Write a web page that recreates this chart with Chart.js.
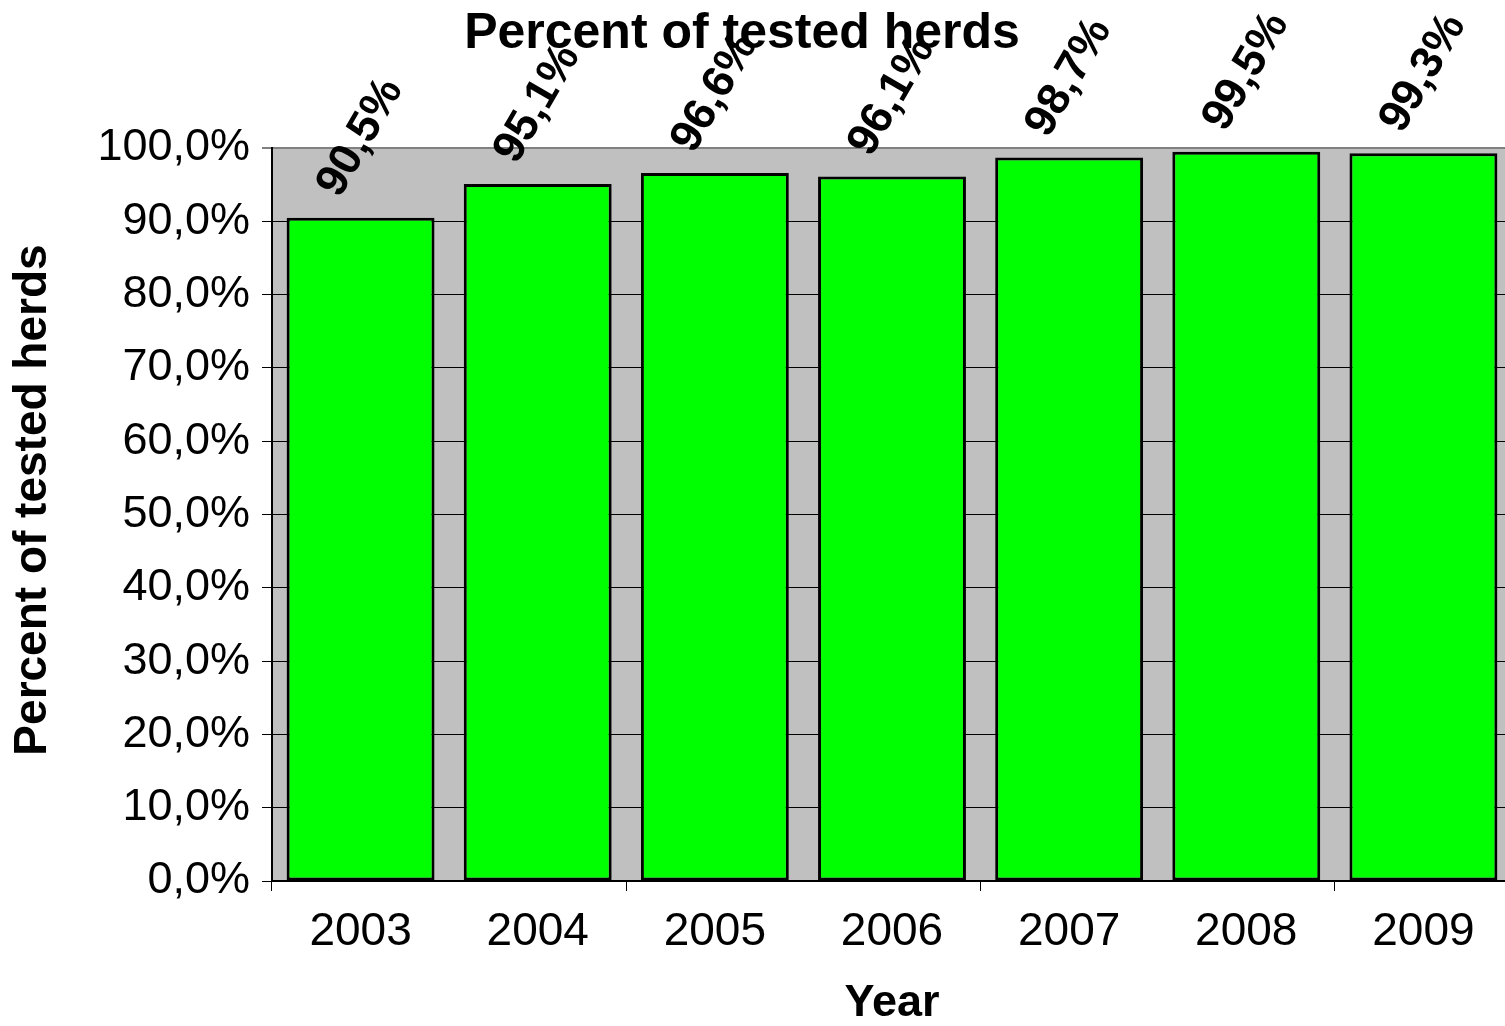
<!DOCTYPE html>
<html>
<head>
<meta charset="utf-8">
<script src="https://cdn.jsdelivr.net/npm/chart.js@4"></script>
<style>
  html, body { margin: 0; padding: 0; background: #fff; overflow: hidden; }
  #wrap { width: 1520px; height: 1026px; }
</style>
</head>
<body>
<div id="wrap"><canvas id="c" width="1520" height="1026"></canvas></div>
<script>
const categories = ['2003', '2004', '2005', '2006', '2007', '2008', '2009'];
const percentTested = [90.5, 95.1, 96.6, 96.1, 98.7, 99.5, 99.3];
const dataLabels = ['90,5%', '95,1%', '96,6%', '96,1%', '98,7%', '99,5%', '99,3%'];
const yTickLabels = ['0,0%', '10,0%', '20,0%', '30,0%', '40,0%', '50,0%', '60,0%', '70,0%', '80,0%', '90,0%', '100,0%'];
const chartTitle = 'Percent of tested herds';
const yTitle = 'Percent of tested herds';
const xTitle = 'Year';

const FONT = '"Liberation Sans", Arial, sans-serif';

const plotBg = {
  id: 'plotBg',
  beforeDraw(chart) {
    const { ctx, chartArea: a } = chart;
    ctx.save();
    ctx.fillStyle = '#C0C0C0';
    ctx.fillRect(a.left, a.top, a.right - a.left, a.bottom - a.top);
    ctx.restore();
  }
};

const labelsAndTitle = {
  id: 'labelsAndTitle',
  afterDraw(chart) {
    const ctx = chart.ctx;
    const meta = chart.getDatasetMeta(0);
    ctx.save();
    ctx.fillStyle = '#000';
    ctx.font = 'bold 45px ' + FONT;
    ctx.textAlign = 'center';
    ctx.textBaseline = 'middle';
    meta.data.forEach((bar, i) => {
      ctx.save();
      ctx.translate(bar.x, bar.y - 80);
      ctx.rotate(-Math.PI / 3);
      ctx.fillText(dataLabels[i], 0, 0);
      ctx.restore();
    });
    // chart title
    ctx.font = 'bold 50px ' + FONT;
    ctx.textBaseline = 'alphabetic';
    ctx.fillText(chartTitle, 742, 48);
    // y axis title
    ctx.save();
    ctx.translate(33, 500);
    ctx.rotate(-Math.PI / 2);
    ctx.font = 'bold 46px ' + FONT;
    ctx.textBaseline = 'middle';
    ctx.fillText(yTitle, 0, 0);
    ctx.restore();
    ctx.restore();
  }
};

new Chart(document.getElementById('c'), {
  type: 'bar',
  data: {
    labels: categories,
    datasets: [{
      data: percentTested,
      backgroundColor: '#00FF00',
      borderColor: '#000000',
      borderWidth: 3,
      borderSkipped: false,
      categoryPercentage: 0.835,
      barPercentage: 1.0
    }]
  },
  options: {
    responsive: false,
    animation: false,
    devicePixelRatio: 1,
    layout: { padding: { left: 0, right: 8, top: 148, bottom: 0 } },
    plugins: {
      legend: { display: false },
      title: { display: false },
      tooltip: { enabled: false }
    },
    scales: {
      x: {
        offset: true,
        afterFit(scale) { scale.height = 145; },
        grid: {
          offset: true,
          drawOnChartArea: false,
          drawTicks: true,
          tickLength: 10,
          lineWidth: 1,
          color: (c) => (c.index % 2 === 0 ? '#000000' : 'rgba(0,0,0,0)')
        },
        border: { display: true, color: '#000000', width: 2 },
        ticks: {
          color: '#000',
          font: { family: FONT, size: 46 },
          padding: 14,
          maxRotation: 0,
          autoSkip: false
        },
        title: {
          display: true,
          text: xTitle,
          color: '#000',
          font: { family: FONT, size: 45, weight: 'bold', lineHeight: 1.0 },
          padding: 0
        }
      },
      y: {
        min: 0,
        max: 100,
        afterFit(scale) { scale.width = 272; },
        grid: {
          drawTicks: true,
          tickLength: 10,
          color: (c) => (c.tick && c.tick.value === 100 ? '#808080' : '#000000'),
          lineWidth: (c) => (c.tick && c.tick.value === 100 ? 2 : 1)
        },
        border: { display: true, color: '#000000', width: 2 },
        ticks: {
          stepSize: 10,
          color: '#000',
          font: { family: FONT, size: 45 },
          padding: 12,
          callback: (v, i) => yTickLabels[i]
        },
        title: { display: false }
      }
    }
  },
  plugins: [plotBg, labelsAndTitle]
});
</script>
</body>
</html>
